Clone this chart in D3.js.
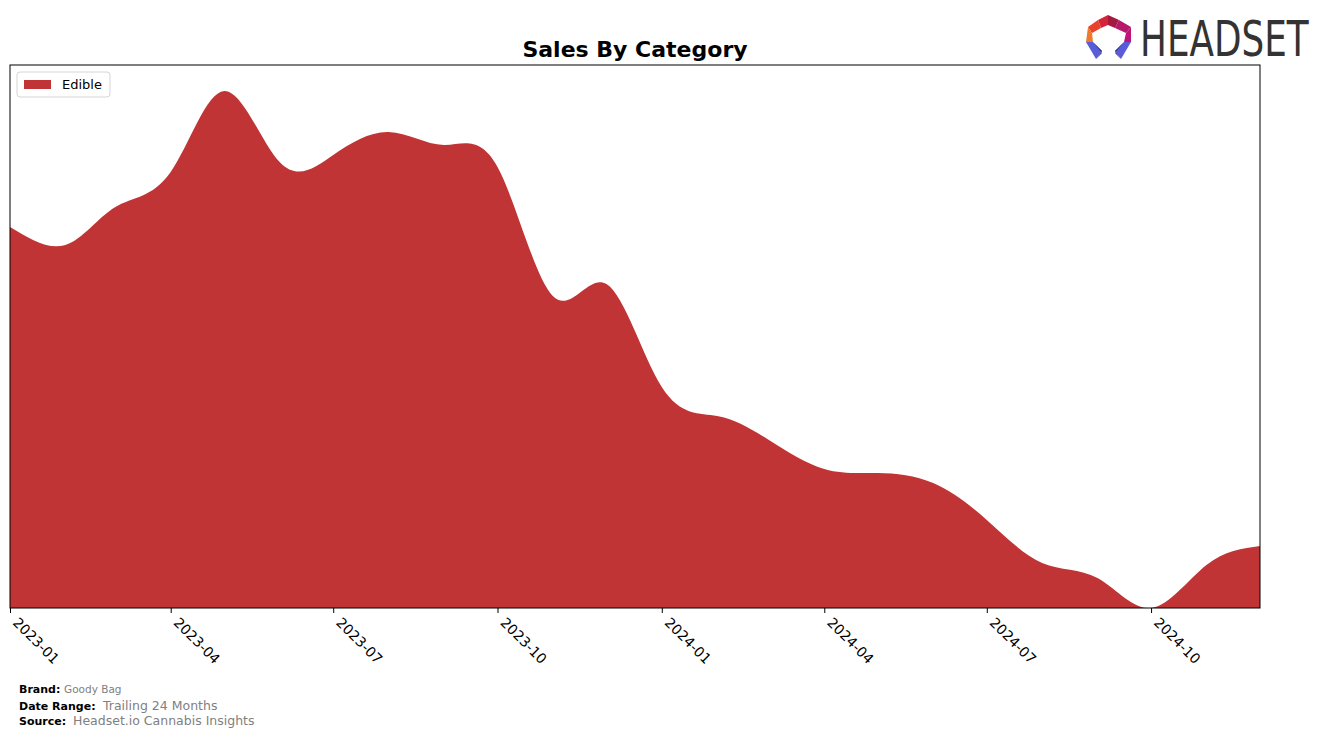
<!DOCTYPE html>
<html>
<head>
<meta charset="utf-8">
<script src="https://cdn.jsdelivr.net/npm/d3@7"></script>
<style>
  body { margin: 0; background: #fff; }
  text { font-family: "DejaVu Sans", sans-serif; }
</style>
</head>
<body>
<svg id="chart" width="1324" height="738"></svg>
<script>
// monthly sales, Edible category (relative units)
const months = ["2023-01","2023-02","2023-03","2023-04","2023-05","2023-06","2023-07","2023-08",
  "2023-09","2023-10","2023-11","2023-12","2024-01","2024-02","2024-03","2024-04",
  "2024-05","2024-06","2024-07","2024-08","2024-09","2024-10","2024-11","2024-12"];
const edible = [381, 363, 401, 436, 517, 446, 453, 476, 463, 441, 312, 324,
  221, 192, 168, 139, 135, 125, 88, 45, 30, 0, 43, 62];
const tickLabels = ["2023-01","2023-04","2023-07","2023-10","2024-01","2024-04","2024-07","2024-10"];
const categories = ["Edible"];
const colors = ["#c13435"];

const svg = d3.select("#chart");
const plot = { left: 10, right: 1260, top: 65, bottom: 608 };

const parse = d3.timeParse("%Y-%m");
const data = months.map((m, i) => ({ date: parse(m), value: edible[i] }));

const x = d3.scaleTime()
  .domain(d3.extent(data, d => d.date))
  .range([plot.left, plot.right]);
const y = d3.scaleLinear()
  .domain([0, 543])
  .range([plot.bottom, plot.top]);

svg.append("clipPath").attr("id", "plot-clip")
  .append("rect")
  .attr("x", plot.left).attr("y", plot.top)
  .attr("width", plot.right - plot.left).attr("height", plot.bottom - plot.top);

// area
const area = d3.area()
  .x(d => x(d.date))
  .y0(plot.bottom + 20)
  .y1(d => y(d.value))
  .curve(d3.curveNatural);

svg.append("path")
  .datum(data)
  .attr("d", area)
  .attr("clip-path", "url(#plot-clip)")
  .attr("fill", colors[0]);

// frame
svg.append("rect")
  .attr("x", plot.left).attr("y", plot.top)
  .attr("width", plot.right - plot.left).attr("height", plot.bottom - plot.top)
  .attr("fill", "none").attr("stroke", "#000").attr("stroke-width", 1);

// x axis
const xAxis = d3.axisBottom(x)
  .tickValues(tickLabels.map(parse))
  .tickFormat(d3.timeFormat("%Y-%m"))
  .tickSize(5)
  .tickPadding(4);

const gx = svg.append("g")
  .attr("transform", `translate(0,${plot.bottom})`)
  .call(xAxis);
gx.select(".domain").remove();
gx.selectAll("text")
  .attr("font-size", 14)
  .attr("fill", "#000")
  .attr("text-anchor", "start")
  .attr("dy", "0.35em")
  .attr("transform", "translate(5,12) rotate(45)")
  .attr("y", 0)
  .attr("x", 0);

// title
svg.append("text")
  .attr("x", 635).attr("y", 57)
  .attr("text-anchor", "middle")
  .attr("font-size", 22)
  .attr("font-weight", "bold")
  .text("Sales By Category");

// legend
const legend = svg.append("g").attr("transform", "translate(17,72)");
legend.append("rect")
  .attr("width", 93).attr("height", 25).attr("rx", 3)
  .attr("fill", "#fff").attr("stroke", "#d5d5d5");
categories.forEach((c, i) => {
  legend.append("rect")
    .attr("x", 7).attr("y", 8 + i * 20)
    .attr("width", 27).attr("height", 9)
    .attr("fill", colors[i]);
  legend.append("text")
    .attr("x", 45).attr("y", 17 + i * 20)
    .attr("font-size", 13)
    .text(c);
});

// footer
const footer = [
  { label: "Brand:", value: "Goody Bag", y: 693, size: 10.5, gap: 45 },
  { label: "Date Range:", value: "Trailing 24 Months", y: 710, size: 12.5, gap: 84 },
  { label: "Source:", value: "Headset.io Cannabis Insights", y: 725, size: 12.5, gap: 54 }
];
footer.forEach(f => {
  svg.append("text")
    .attr("x", 19).attr("y", f.y)
    .attr("font-size", 11).attr("font-weight", "bold")
    .text(f.label);
  svg.append("text")
    .attr("x", 19 + f.gap).attr("y", f.y)
    .attr("font-size", f.size).attr("fill", "#808080")
    .text(f.value);
});

// logo
const logo = svg.append("g").attr("transform", "translate(1086,15)");
const pieces = [
  { pts: "12,5 22,0 22,10 15,13", fill: "#d5243a" },
  { pts: "22,0 33,5 29,13 22,10", fill: "#a3193f" },
  { pts: "33,5 45,12 40,18 29,13", fill: "#b5176a" },
  { pts: "45,12 45,27 38,27 40,18", fill: "#c0127a" },
  { pts: "12,5 2,12 6,18 15,13", fill: "#e8412c" },
  { pts: "2,12 0,27 7,27 6,18", fill: "#f07a2a" },
  { pts: "0,27 7,27 16,36 10,44", fill: "#5a5bd8" },
  { pts: "7,27 16,36 10,44 16,38", fill: "#2b2f8c" },
  { pts: "45,27 38,27 29,36 35,44", fill: "#5a5bd8" },
  { pts: "38,27 29,36 35,44 29,38", fill: "#2b2f8c" }
];
pieces.forEach(p => logo.append("polygon").attr("points", p.pts).attr("fill", p.fill));
svg.append("text")
  .attr("transform", "translate(1140,56) scale(0.73,1)")
  .attr("font-size", 49)
  .attr("fill", "#333")
  .text("HEADSET");
</script>
</body>
</html>
